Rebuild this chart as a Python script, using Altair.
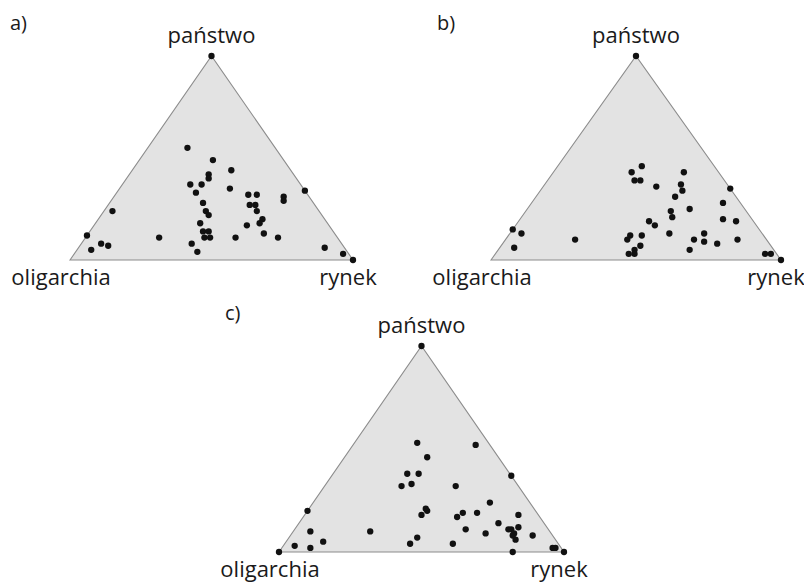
import altair as alt
import pandas as pd

# Ternary shares (%): państwo (top corner) and rynek (right corner);
# oligarchia (left corner) = 100 - państwo - rynek
a_panstwo = [55, 49, 44, 42, 40, 37, 37, 35, 33, 32, 32, 31, 29, 34, 24, 28, 27, 27, 24, 22,
             24, 20, 18, 18, 17, 14, 14, 11, 11, 13, 11, 11, 11, 12, 8, 7, 5, 8, 4, 6, 3, 0, 100]
a_rynek = [14, 26, 35, 28, 29, 24, 28, 39, 28, 47, 50, 60, 61, 66, 3, 33, 50, 52, 36, 38,
           54, 58, 58, 37, 54, 40, 42, 44, 42, 62, 68, 53, 26, 0, 7, 10, 5, 39, 43, 87, 95, 100, 0]

b_panstwo = [46, 43, 43, 39, 39, 36, 37, 34, 31, 35, 28, 24, 25, 21, 20, 19, 19, 17, 15, 13,
             13, 12, 12, 10, 13, 10, 10, 9, 8, 10, 7, 5, 5, 6, 3, 3, 3, 3, 100, 0]
b_rynek = [29, 27, 45, 30, 32, 39, 47, 49, 48, 65, 66, 50, 56, 52, 70, 75, 45, 48, 0, 4,
           55, 46, 42, 42, 67, 80, 65, 69, 74, 24, 48, 47, 66, 5, 46, 48, 93, 95, 0, 100]

c_panstwo = [53, 52, 46, 38, 38, 33, 32, 32, 37, 24, 20, 21, 20, 18, 19, 17, 19, 18, 14, 10,
             10, 11, 9, 11, 9, 12, 6, 8, 8, 7, 4, 4, 5, 3, 2, 0, 2, 2, 0, 0, 100, 11]
c_rynek = [22, 43, 29, 26, 30, 30, 27, 46, 63, 62, 0, 41, 42, 41, 55, 54, 60, 75, 70, 6,
           27, 60, 68, 76, 78, 78, 80, 78, 85, 45, 44, 59, 13, 4, 10, 82, 95, 96, 100, 0, 0, 75]

corner_names = ["oligarchia", "państwo", "rynek"]
corner_panstwo = [0, 100, 0]
corner_rynek = [0, 0, 100]

# panel placement on the page (layout only)
layout = {
    "a)": dict(left=70, width=283, base=260, height=204, tag_x=10, tag_y=30),
    "b)": dict(left=491, width=290, base=260, height=204, tag_x=437, tag_y=30),
    "c)": dict(left=279, width=285, base=552, height=206, tag_x=225, tag_y=320),
}
# label offsets from each corner (layout only)
label_off = {"oligarchia": (-9, 25), "państwo": (0, -13), "rynek": (-5, 25)}

rows = []
for panel, ps, rs in [("a)", a_panstwo, a_rynek), ("b)", b_panstwo, b_rynek), ("c)", c_panstwo, c_rynek)]:
    for p, r in zip(ps, rs):
        rows.append(dict(panel=panel, panstwo=p, rynek=r, oligarchia=100 - p - r, **layout[panel]))
points = pd.DataFrame(rows)

crow = []
for panel in layout:
    for name, p, r in zip(corner_names, corner_panstwo, corner_rynek):
        ox, oy = label_off[name]
        crow.append(dict(panel=panel, name=name, panstwo=p, rynek=r, ox=ox, oy=oy, **layout[panel]))
corners = pd.DataFrame(crow)

tags = pd.DataFrame([dict(panel=k, **v) for k, v in layout.items()])

xs = alt.Scale(domain=[8, 804], nice=False, zero=False)
ys = alt.Scale(domain=[583, 8], nice=False, zero=False)

proj_x = "datum.left + (datum.rynek + datum.panstwo / 2) / 100 * datum.width"
proj_y = "datum.base - datum.panstwo / 100 * datum.height"

tri = alt.Chart(corners).transform_calculate(px=proj_x, py=proj_y).mark_area(
    fill="#e3e3e3", stroke="#8c8c8c", strokeWidth=1.1, opacity=1
).encode(
    x=alt.X("px:Q", scale=xs, axis=None),
    y=alt.Y("py:Q", scale=ys, axis=None),
    y2="base:Q",
    detail="panel:N",
)

dots = alt.Chart(points).transform_calculate(px=proj_x, py=proj_y).mark_circle(
    color="#111111", opacity=1, size=40
).encode(
    x=alt.X("px:Q", scale=xs, axis=None),
    y=alt.Y("py:Q", scale=ys, axis=None),
)

labels = alt.Chart(corners).transform_calculate(
    lx=proj_x + " + datum.ox", ly=proj_y + " + datum.oy"
).mark_text(font="Open Sans", fontSize=22, color="#1a1a1a", align="center", baseline="alphabetic").encode(
    x=alt.X("lx:Q", scale=xs, axis=None),
    y=alt.Y("ly:Q", scale=ys, axis=None),
    text="name:N",
)

tag_text = alt.Chart(tags).mark_text(
    font="Open Sans", fontSize=20, color="#1a1a1a", align="left", baseline="alphabetic"
).encode(
    x=alt.X("tag_x:Q", scale=xs, axis=None),
    y=alt.Y("tag_y:Q", scale=ys, axis=None),
    text="panel:N",
)

chart = alt.layer(tri, dots, labels, tag_text).properties(
    width=796, height=575, padding=0, autosize=alt.AutoSizeParams(type="none"), background="white"
).configure_view(stroke=None)

chart.save("out.html", embed_options={"renderer": "svg", "actions": False})
